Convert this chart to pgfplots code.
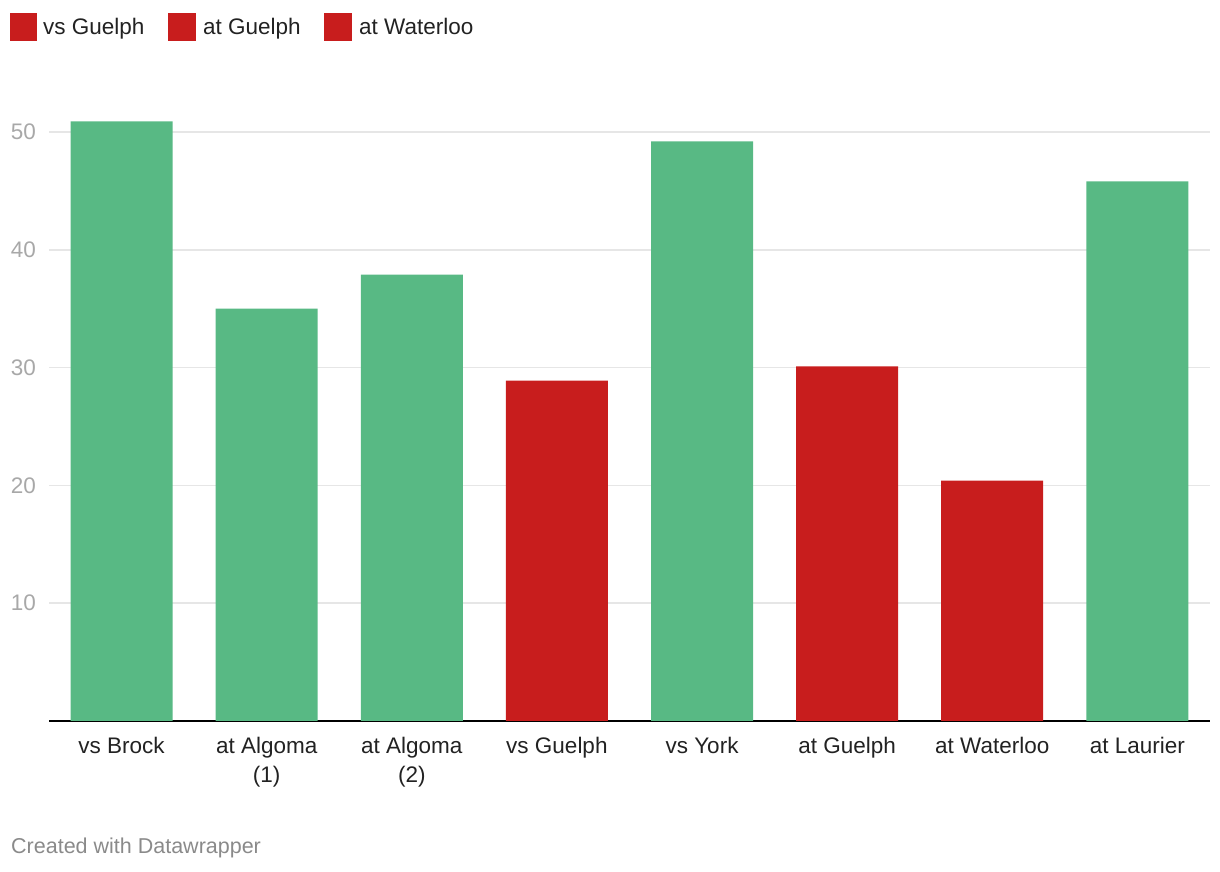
\documentclass[border=0pt]{standalone}
\usepackage{fontspec}
\setmainfont{Liberation Sans}
\usepackage{pgfplots}
\pgfplotsset{compat=1.18}
\definecolor{dwgreen}{HTML}{58B984}
\definecolor{dwred}{HTML}{C81D1D}
\definecolor{gridgray}{HTML}{E6E6E6}
\definecolor{ticktext}{HTML}{A8A8A8}
\definecolor{labeltext}{HTML}{222222}
\definecolor{foot}{HTML}{8A8A8A}
\begin{document}
\begin{tikzpicture}[x=1pt,y=1pt]
\path[use as bounding box] (0,0) rectangle (1220,872);
\begin{axis}[
    at={(49pt,151pt)}, anchor=south west,
    scale only axis, width=1161pt, height=612.6pt,
    xmin=-0.5, xmax=7.5, ymin=0, ymax=52,
    axis x line=bottom, axis y line=left,
    x axis line style={-, black, line width=2pt},
    y axis line style={draw=none},
    major tick length=0pt,
    ytick={10,20,30,40,50},
    ymajorgrids, grid style={gridgray, line width=1.6pt},
    xtick={0,...,7},
    xticklabels={vs Brock,{at Algoma\\(1)},{at Algoma\\(2)},vs Guelph,vs York,at Guelph,at Waterloo,at Laurier},
    x tick label style={align=center, font=\fontsize{22.5}{29}\selectfont, text=labeltext, yshift=-13pt},
    y tick label style={font=\fontsize{22.5}{27}\selectfont, text=ticktext, xshift=-9.5pt},
    /pgf/number format/assume math mode=true,
    ybar, bar width=0.703,
]
\addplot[fill=dwgreen, draw=none, bar shift=0pt] coordinates {
    (0,50.9) (1,35.0) (2,37.9) (4,49.2) (7,45.8)
};
\addplot[fill=dwred, draw=none, bar shift=0pt] coordinates {
    (3,28.9) (5,30.1) (6,20.4)
};
\end{axis}
% legend
\fill[dwred] (10,831) rectangle (37,859);
\node[anchor=base west, inner sep=0, text=labeltext, font=\fontsize{22.5}{27}\selectfont] at (43,837) {vs Guelph};
\fill[dwred] (168,831) rectangle (196,859);
\node[anchor=base west, inner sep=0, text=labeltext, font=\fontsize{22.5}{27}\selectfont] at (203,837) {at Guelph};
\fill[dwred] (324,831) rectangle (352,859);
\node[anchor=base west, inner sep=0, text=labeltext, font=\fontsize{22.5}{27}\selectfont] at (359,837) {at Waterloo};
% footer
\node[anchor=base west, inner sep=0, text=foot, font=\fontsize{21.5}{26}\selectfont] at (11,18) {Created with Datawrapper};
\end{tikzpicture}
\end{document}
